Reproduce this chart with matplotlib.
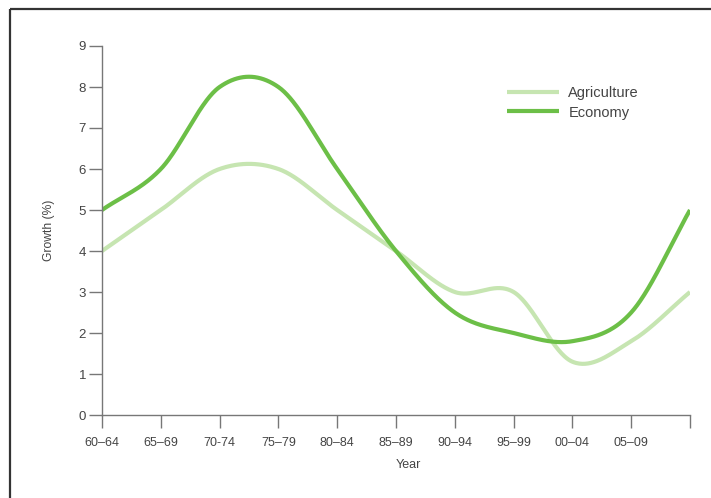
import numpy as np
import matplotlib
matplotlib.use("Agg")
import matplotlib.pyplot as plt
from matplotlib.lines import Line2D

plt.rcParams['font.family'] = ['Liberation Sans', 'DejaVu Sans']

categories = ["60\u201364", "65\u201369", "70-74", "75\u201379", "80\u201384", "85\u201389",
              "90\u201394", "95\u201399", "00\u201304", "05\u201309", ""]
agriculture = [4, 5, 6, 6, 5, 4, 3, 3, 1.3, 1.8, 3]
economy = [5, 6, 8, 8, 6, 4, 2.5, 2, 1.8, 2.5, 5]
y_ticks = list(range(0, 10))


def catmull_rom(y, n=60):
    y = np.asarray(y, float)
    x = np.arange(len(y), dtype=float)
    m = np.zeros_like(y)
    m[1:-1] = (y[2:] - y[:-2]) / 2.0
    m[0] = y[1] - y[0]
    m[-1] = y[-1] - y[-2]
    xs, ys = [], []
    for i in range(len(y) - 1):
        t = np.linspace(0, 1, n, endpoint=(i == len(y) - 2))
        h00 = 2 * t**3 - 3 * t**2 + 1
        h10 = t**3 - 2 * t**2 + t
        h01 = -2 * t**3 + 3 * t**2
        h11 = t**3 - t**2
        xs.append(x[i] + t)
        ys.append(h00 * y[i] + h10 * m[i] + h01 * y[i + 1] + h11 * m[i + 1])
    return np.concatenate(xs), np.concatenate(ys)


fig = plt.figure(figsize=(7.11, 4.98), dpi=100)
ax = fig.add_axes([102 / 711, 1 - 415 / 498, (690 - 102) / 711, (415 - 46) / 498])

agri_col = "#c6e5b1"
econ_col = "#6cbf47"

xa, ya = catmull_rom(agriculture)
xe, ye = catmull_rom(economy)
ax.plot(xa, ya, color=agri_col, lw=3.0, solid_capstyle='butt', label="Agriculture")
ax.plot(xe, ye, color=econ_col, lw=3.0, solid_capstyle='butt', label="Economy")

ax.set_xlim(0, 10)
ax.set_ylim(0, 9)
ax.set_xticks(range(len(categories)))
ax.set_xticklabels(categories)
ax.set_yticks(y_ticks)

for s in ['top', 'right']:
    ax.spines[s].set_visible(False)
for s in ['left', 'bottom']:
    ax.spines[s].set_color("#777777")
    ax.spines[s].set_linewidth(1.0)
ax.tick_params(axis='both', colors="#777777", length=9.5, width=1.0,
               labelcolor="#444444")
ax.tick_params(axis='y', pad=2, labelsize=9.5)
ax.tick_params(axis='x', pad=6, labelsize=9)

ax.set_ylabel("Growth (%)", fontsize=8.7, color="#444444")
ax.yaxis.set_label_coords(-0.080, 0.5)
ax.set_xlabel("Year", fontsize=9, color="#444444")
ax.xaxis.set_label_coords(0.521, -0.12)

leg = ax.legend(loc='upper left', bbox_to_anchor=(0.666, 0.928), frameon=False,
                fontsize=10.5, handlelength=3.6, handletextpad=0.62, labelspacing=0.4,
                labelcolor="#444444")

# figure border (left and top)
fig.add_artist(Line2D([9.5 / 711, 9.5 / 711], [0, 1 - 9.5 / 498], color="#333333", lw=1.6,
                      transform=fig.transFigure, solid_capstyle='butt'))
fig.add_artist(Line2D([9.5 / 711, 1], [1 - 9.5 / 498, 1 - 9.5 / 498], color="#333333", lw=1.6,
                      transform=fig.transFigure, solid_capstyle='butt'))

fig.savefig("out.png", dpi=100, facecolor="white")
